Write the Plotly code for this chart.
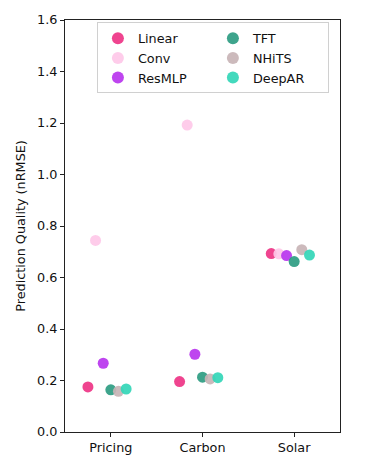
import plotly.graph_objects as go

categories = ["Pricing", "Carbon", "Solar"]
models = ["Linear", "Conv", "ResMLP", "TFT", "NHiTS", "DeepAR"]
colors = ["#ee3485", "#fec8e8", "#b935ee", "#2e9c82", "#c8b4b6", "#33d6b7"]
offsets = [-0.25, -0.167, -0.083, 0.0, 0.083, 0.167]
values = {
    "Linear": [0.175, 0.196, 0.693],
    "Conv":   [0.744, 1.192, 0.692],
    "ResMLP": [0.267, 0.302, 0.685],
    "TFT":    [0.164, 0.213, 0.662],
    "NHiTS":  [0.158, 0.206, 0.708],
    "DeepAR": [0.167, 0.211, 0.687],
}
legend_rank = [1, 3, 5, 2, 4, 6]

fig = go.Figure()
for i, m in enumerate(models):
    fig.add_trace(go.Scatter(
        x=[j + offsets[i] for j in range(len(categories))],
        y=values[m],
        mode="markers",
        name=m,
        legendrank=legend_rank[i],
        marker=dict(color=colors[i], size=11, opacity=0.92, line=dict(width=0)),
    ))

FS = 12.8
axis_font = dict(family="DejaVu Sans", size=FS, color="#111")
fig.update_layout(
    width=365, height=469,
    margin=dict(l=65, r=25, t=18, b=37),
    paper_bgcolor="white", plot_bgcolor="white",
    font=axis_font,
    showlegend=True,
    legend=dict(
        orientation="h", x=0.116, xanchor="left", y=0.994, yanchor="top",
        entrywidth=70, bordercolor="#d0d0d0", borderwidth=1,
        bgcolor="rgba(255,255,255,0.8)", font=dict(family="DejaVu Sans", size=FS, color="#111"),
        itemsizing="constant", traceorder="normal",
    ),
    xaxis=dict(
        range=[-0.5, 2.5], tickvals=[0, 1, 2], ticktext=categories,
        showgrid=False, zeroline=False, showline=True, linecolor="#222", linewidth=1,
        mirror=True, ticks="outside", ticklen=4, tickcolor="#222",
    ),
    yaxis=dict(
        range=[0, 1.6], tickvals=[0, 0.2, 0.4, 0.6, 0.8, 1.0, 1.2, 1.4, 1.6],
        tickformat=".1f",
        showgrid=False, zeroline=False, showline=True, linecolor="#222", linewidth=1,
        mirror=True, ticks="outside", ticklen=4, tickcolor="#222",
        title=dict(text="Prediction Quality (nRMSE)", standoff=8,
                   font=dict(family="DejaVu Sans", size=FS, color="#111")),
    ),
)

fig.write_html("out.html", config={"displayModeBar": False},
               post_script="document.body.style.margin='0';")
